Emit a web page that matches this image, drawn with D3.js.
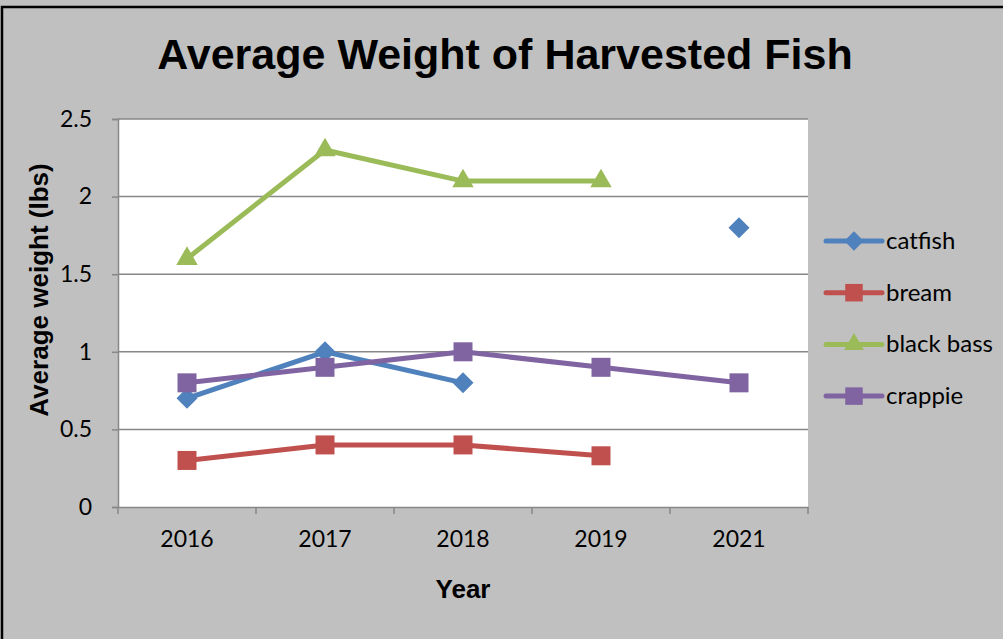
<!DOCTYPE html>
<html>
<head>
<meta charset="utf-8">
<script src="https://cdn.jsdelivr.net/npm/d3@7"></script>
<style>
  body { margin: 0; background: #c0c0c0; }
</style>
</head>
<body>
<div id="chart"></div>
<script>
var years = ["2016", "2017", "2018", "2019", "2021"];
var catfish = [0.7, 1.0, 0.8, null, 1.8];
var bream = [0.3, 0.4, 0.4, 0.33, null];
var blackBass = [1.6, 2.3, 2.1, 2.1, null];
var crappie = [0.8, 0.9, 1.0, 0.9, 0.8];
var yTicks = [0, 0.5, 1, 1.5, 2, 2.5];

// square rotated 45 degrees, like the spreadsheet diamond marker
var squareDiamond = {
  draw: function(context, size) {
    var r = Math.sqrt(size / 2);
    context.moveTo(0, -r);
    context.lineTo(r, 0);
    context.lineTo(0, r);
    context.lineTo(-r, 0);
    context.closePath();
  }
};

var seriesList = [
  { name: "catfish", values: catfish, color: "#4f81bd", symbol: squareDiamond, size: 220 },
  { name: "bream", values: bream, color: "#c0504d", symbol: d3.symbolSquare, size: 361 },
  { name: "black bass", values: blackBass, color: "#9bbb59", symbol: d3.symbolTriangle, size: 200 },
  { name: "crappie", values: crappie, color: "#8064a2", symbol: d3.symbolSquare, size: 361 }
];

var svgWidth = 1003;
var svgHeight = 639;
var margin = { top: 119, right: 195, bottom: 132, left: 118 };
var chartWidth = svgWidth - margin.left - margin.right;
var chartHeight = svgHeight - margin.top - margin.bottom;

var svg = d3.select("#chart").append("svg")
  .attr("width", svgWidth)
  .attr("height", svgHeight)
  .style("display", "block");

svg.append("rect")
  .attr("width", svgWidth).attr("height", svgHeight)
  .attr("fill", "#c0c0c0");

// outer border (right and bottom run off the page)
svg.append("rect")
  .attr("x", 2).attr("y", 7)
  .attr("width", svgWidth + 10).attr("height", svgHeight + 10)
  .attr("fill", "none").attr("stroke", "#000").attr("stroke-width", 2.5);

svg.append("text")
  .attr("x", 505).attr("y", 69)
  .attr("text-anchor", "middle")
  .attr("font-family", "Liberation Sans, Arial, sans-serif")
  .attr("font-weight", "bold").attr("font-size", "43px")
  .text("Average Weight of Harvested Fish");

var chartGroup = svg.append("g")
  .attr("transform", `translate(${margin.left}, ${margin.top})`);

chartGroup.append("rect")
  .attr("width", chartWidth).attr("height", chartHeight)
  .attr("fill", "#fff");

var xBand = d3.scaleBand().domain(years).range([0, chartWidth]);
var yScale = d3.scaleLinear().domain([0, 2.5]).range([chartHeight, 0]);
var xPos = d => xBand(d) + xBand.bandwidth() / 2;

// gridlines
chartGroup.selectAll(".grid")
  .data(yTicks.filter(t => t > 0))
  .enter().append("line")
  .attr("x1", 0).attr("x2", chartWidth)
  .attr("y1", d => yScale(d)).attr("y2", d => yScale(d))
  .attr("stroke", "#878787").attr("stroke-width", 1.5);

// y axis
var yAxis = chartGroup.append("g")
  .call(d3.axisLeft(yScale).tickValues(yTicks).tickFormat(d3.format("")).tickSize(6).tickPadding(20));
yAxis.select(".domain").attr("stroke", "#878787").attr("stroke-width", 1.5);
yAxis.selectAll(".tick line").attr("stroke", "#878787").attr("stroke-width", 1.5);
yAxis.selectAll("text")
  .attr("font-family", "Lato, Open Sans, sans-serif")
  .attr("font-size", "23px").attr("fill", "#000");

// x axis
var xAxis = chartGroup.append("g")
  .attr("transform", `translate(0, ${chartHeight})`)
  .call(d3.axisBottom(xBand).tickSize(0).tickPadding(24));
xAxis.select(".domain").attr("stroke", "#878787").attr("stroke-width", 1.5);
xAxis.selectAll("text")
  .attr("font-family", "Lato, Open Sans, sans-serif")
  .attr("font-size", "23px").attr("fill", "#000");
xAxis.selectAll(".sep")
  .data(years.concat([null]))
  .enter().append("line")
  .attr("x1", (d, i) => i * xBand.bandwidth())
  .attr("x2", (d, i) => i * xBand.bandwidth())
  .attr("y1", 0).attr("y2", 7)
  .attr("stroke", "#878787").attr("stroke-width", 1.5);

// axis titles
svg.append("text")
  .attr("x", margin.left + chartWidth / 2).attr("y", 598)
  .attr("text-anchor", "middle")
  .attr("font-family", "Liberation Sans, Arial, sans-serif")
  .attr("font-weight", "bold").attr("font-size", "26px")
  .text("Year");

svg.append("text")
  .attr("transform", "rotate(-90)")
  .attr("x", -290).attr("y", 48)
  .attr("text-anchor", "middle")
  .attr("font-family", "Liberation Sans, Arial, sans-serif")
  .attr("font-weight", "bold").attr("font-size", "26px")
  .text("Average weight (lbs)");

// lines and markers
var line = d3.line()
  .defined(d => d.v !== null)
  .x(d => xPos(d.year))
  .y(d => yScale(d.v));

seriesList.forEach(function(s) {
  var pts = years.map((y, i) => ({ year: y, v: s.values[i] }));
  chartGroup.append("path")
    .datum(pts)
    .attr("d", line)
    .attr("fill", "none")
    .attr("stroke", s.color)
    .attr("stroke-width", 5)
    .attr("stroke-linejoin", "round");
});

seriesList.forEach(function(s) {
  var pts = years.map((y, i) => ({ year: y, v: s.values[i] })).filter(d => d.v !== null);
  chartGroup.selectAll(null)
    .data(pts)
    .enter().append("path")
    .attr("d", d3.symbol().type(s.symbol).size(s.size))
    .attr("transform", d => `translate(${xPos(d.year)}, ${yScale(d.v)})`)
    .attr("fill", s.color);
});

// legend
var legend = svg.append("g").attr("transform", "translate(826, 241)");
var items = legend.selectAll("g")
  .data(seriesList)
  .enter().append("g")
  .attr("transform", (d, i) => `translate(0, ${i * 51.7})`);
items.append("line")
  .attr("x1", 0).attr("x2", 56)
  .attr("stroke", d => d.color).attr("stroke-width", 5)
  .attr("stroke-linecap", "round");
items.append("path")
  .attr("d", d => d3.symbol().type(d.symbol).size(d.size * 0.85)())
  .attr("transform", "translate(28, 0)")
  .attr("fill", d => d.color);
items.append("text")
  .attr("x", 60).attr("y", 8)
  .attr("font-family", "Lato, Open Sans, sans-serif")
  .attr("font-size", "24px").attr("fill", "#000")
  .text(d => d.name);
</script>
</body>
</html>
